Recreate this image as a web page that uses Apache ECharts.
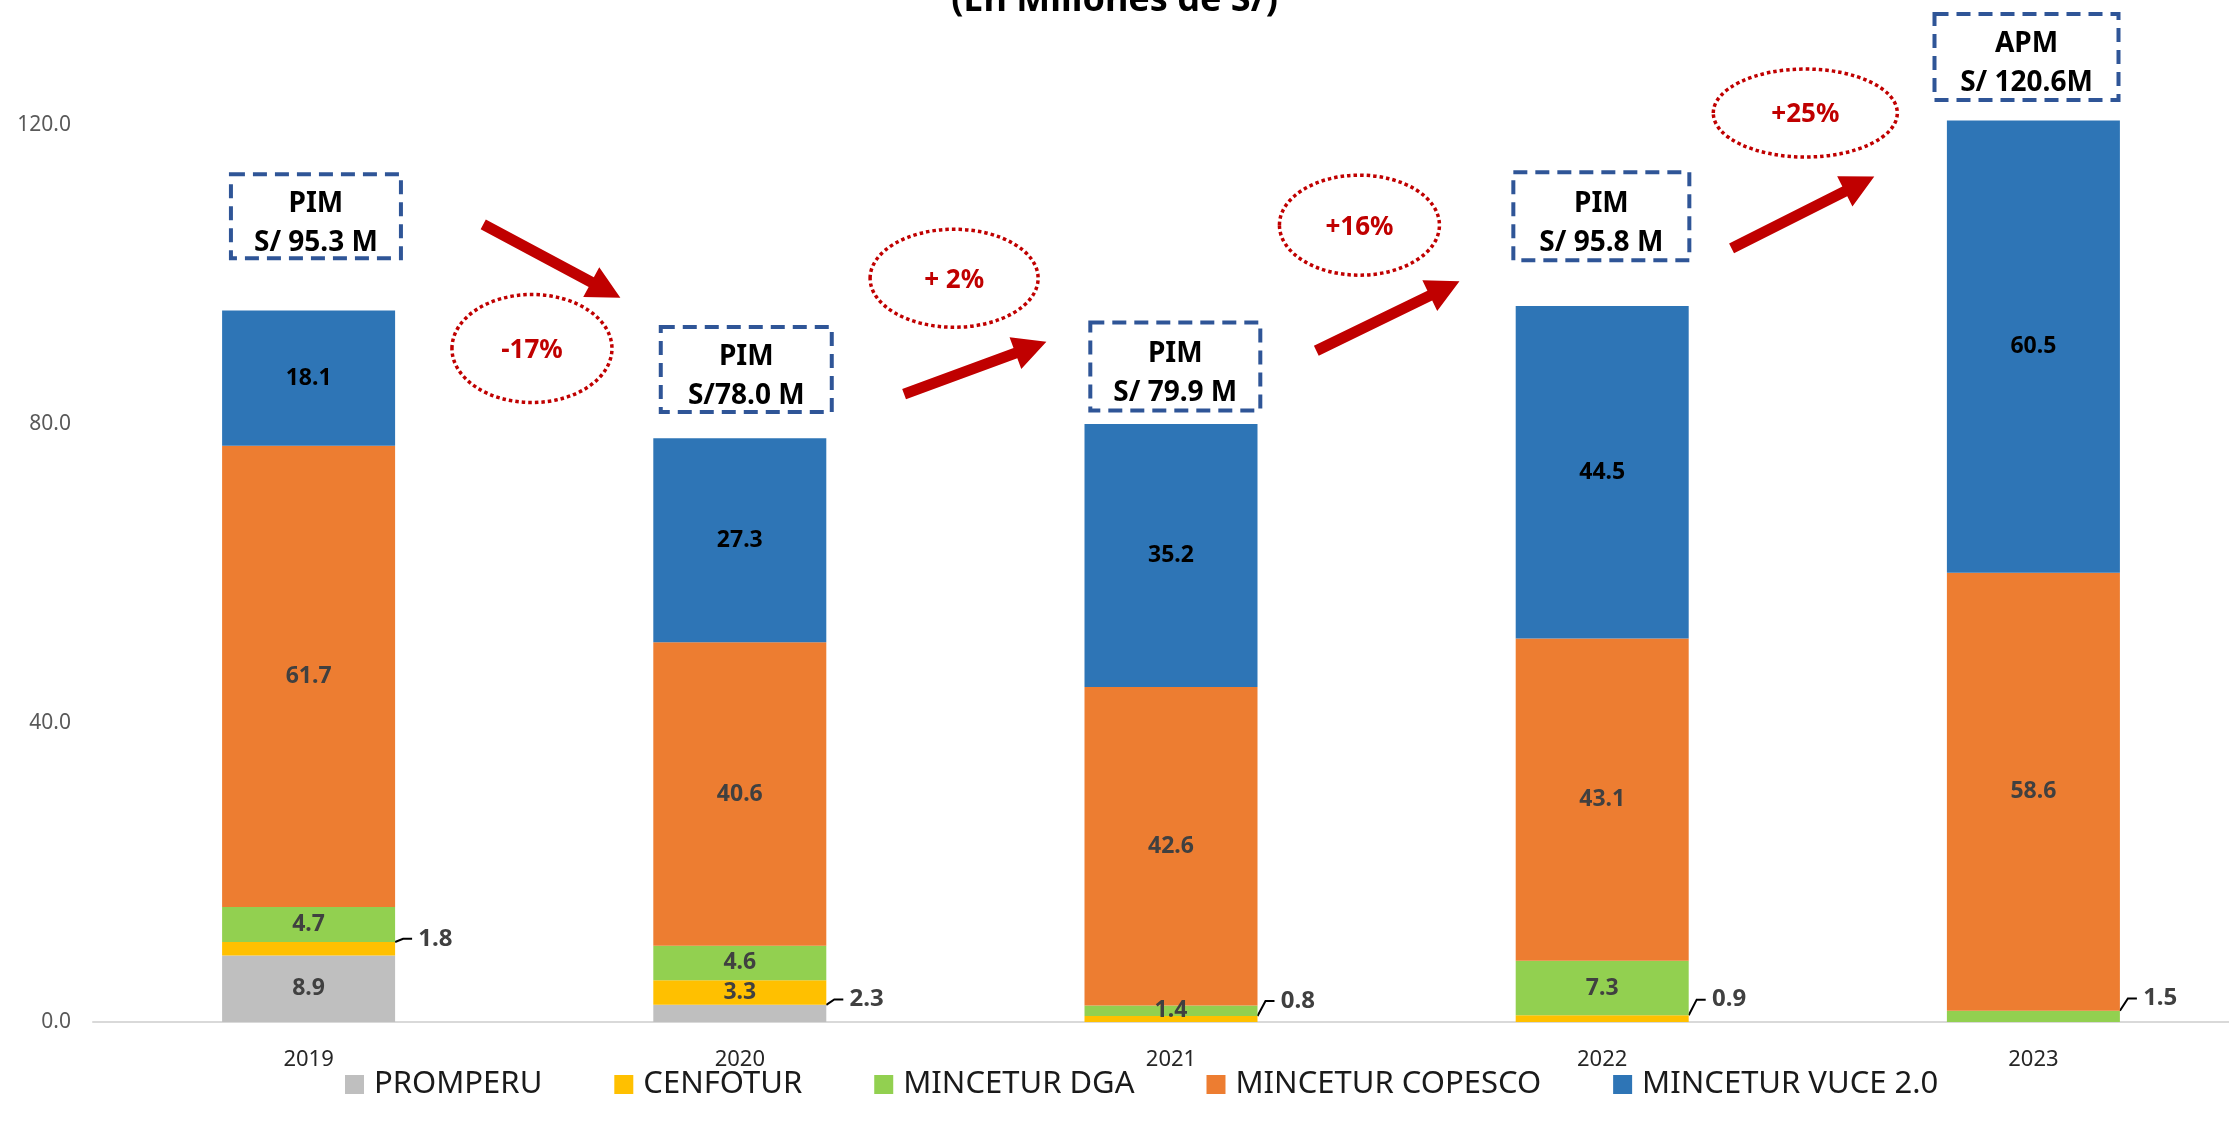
<!DOCTYPE html>
<html lang="es">
<head>
<meta charset="UTF-8">
<title>Presupuesto por año</title>
<script src="https://cdn.jsdelivr.net/npm/echarts@6/dist/echarts.min.js"></script>
<style>
  html, body { margin: 0; padding: 0; background: #fff; }
  #main { width: 2229px; height: 1138px; }
</style>
</head>
<body>
<div id="main"></div>
<script>
// datos (millones de S/)
var years = ['2019', '2020', '2021', '2022', '2023'];
var promperu = [8.9, 2.3, 0, 0, 0];
var cenfotur = [1.8, 3.3, 0.8, 0.9, 0];
var mincDga = [4.7, 4.6, 1.4, 7.3, 1.5];
var copesco = [61.7, 40.6, 42.6, 43.1, 58.6];
var vuce = [18.1, 27.3, 35.2, 44.5, 60.5];

var boxTitles = ['PIM', 'PIM', 'PIM', 'PIM', 'APM'];
var boxAmounts = ['S/ 95.3 M', 'S/78.0 M', 'S/ 79.9 M', 'S/ 95.8 M', 'S/ 120.6M'];
var changes = ['-17%', '+ 2%', '+16%', '+25%'];

var FONT = '"Noto Sans", "DejaVu Sans", sans-serif';

// etiquetas pequeñas que van fuera de la barra: "serie_indice" -> dy
var callouts = { '1_0': -10, '0_1': -14, '1_2': -18, '1_3': -19, '2_4': -18 };

// anotaciones: [posicion en categorias, valor en eje y, ...]
var boxPos = [[0.017, 107.8, 170, 84], [1.015, 87.3, 171, 85], [2.01, 87.7, 170, 88], [2.998, 107.8, 176, 88], [3.984, 129.1, 184, 86]];
var ellipsePos = [[0.518, 90.1, 80, 54], [1.497, 99.5, 84, 49], [2.437, 106.6, 80, 50], [3.471, 121.6, 92, 44]];
var arrowPos = [[0.405, 106.7, 0.723, 96.9], [1.381, 84.0, 1.711, 91.0], [2.337, 89.8, 2.669, 99.1], [3.300, 103.5, 3.631, 113.1]];

var myChart = echarts.init(document.getElementById('main'));

function isCallout(s, i) {
  return callouts[s + '_' + i] !== undefined;
}

function makeSeries(name, data, color, labelColor, sIdx) {
  return {
    name: name,
    type: 'bar',
    stack: 'total',
    barWidth: 173,
    clip: false,
    itemStyle: { color: color },
    label: {
      show: true,
      position: 'inside',
      color: labelColor,
      fontWeight: 'bold',
      fontSize: 23,
      fontFamily: FONT,
      formatter: function (p) {
        if (!p.value) return '';
        // deja un hueco entre la guía y el número
        return (isCallout(p.seriesIndex, p.dataIndex) ? ' ' : '') + p.value.toFixed(1);
      }
    },
    labelLayout: function (params) {
      var dy = callouts[params.seriesIndex + '_' + params.dataIndex];
      if (dy === undefined) return {};
      return { dx: 12, dy: dy };
    },
    data: data.map(function (v, i) {
      if (!isCallout(sIdx, i)) return v;
      return {
        value: v,
        label: { position: 'right', distance: 5, color: '#404040', fontSize: 24 },
        labelLine: { show: true, length2: 9, lineStyle: { color: '#000', width: 2 } }
      };
    })
  };
}

var option = {
  backgroundColor: '#fff',
  animation: false,
  title: {
    text: '(En Millones de S/)',
    left: 'center',
    top: -22,
    textStyle: { fontSize: 36, fontWeight: 'bold', color: '#000', fontFamily: FONT }
  },
  legend: {
    top: 1064,
    left: 340,
    icon: 'rect',
    itemWidth: 19,
    itemHeight: 19,
    itemGap: 72,
    textStyle: { fontSize: 31, color: '#1a1a1a', fontFamily: FONT, padding: [0, 0, 0, 5] },
    data: ['PROMPERU', 'CENFOTUR', 'MINCETUR DGA', 'MINCETUR COPESCO', 'MINCETUR VUCE 2.0']
  },
  grid: { left: 93, top: 125, bottom: 116, width: 2156, outerBoundsMode: 'none' },
  xAxis: {
    type: 'category',
    data: years,
    axisLine: { lineStyle: { color: '#d9d9d9', width: 2 } },
    axisTick: { show: false },
    axisLabel: { color: '#262626', fontSize: 22, margin: 27, fontFamily: FONT }
  },
  yAxis: {
    type: 'value',
    min: 0,
    max: 120,
    interval: 40,
    axisLine: { show: false },
    axisTick: { show: false },
    splitLine: { show: false },
    axisLabel: {
      color: '#595959', fontSize: 21, margin: 22, fontFamily: FONT,
      formatter: function (v) { return v.toFixed(1); }
    }
  },
  series: [
    makeSeries('PROMPERU', promperu, '#bfbfbf', '#404040', 0),
    makeSeries('CENFOTUR', cenfotur, '#ffc000', '#404040', 1),
    makeSeries('MINCETUR DGA', mincDga, '#92d050', '#404040', 2),
    makeSeries('MINCETUR COPESCO', copesco, '#ed7d31', '#404040', 3),
    makeSeries('MINCETUR VUCE 2.0', vuce, '#2e75b6', '#000', 4)
  ]
};

myChart.setOption(option);

// posiciones de las anotaciones a partir de los ejes
var x0 = myChart.convertToPixel({ xAxisIndex: 0 }, 0);
var step = myChart.convertToPixel({ xAxisIndex: 0 }, 1) - x0;
function pt(f, v) {
  return [x0 + f * step, myChart.convertToPixel({ yAxisIndex: 0 }, v)];
}

function arrowPoints(a, b) {
  var dx = b[0] - a[0], dy = b[1] - a[1];
  var len = Math.sqrt(dx * dx + dy * dy);
  var ux = dx / len, uy = dy / len, nx = -uy, ny = ux;
  var w = 5.5, hw = 17, hl = 33;
  var bx = b[0] - ux * hl, by = b[1] - uy * hl;
  return [
    [a[0] + nx * w, a[1] + ny * w],
    [bx + nx * w, by + ny * w],
    [bx + nx * hw, by + ny * hw],
    [b[0], b[1]],
    [bx - nx * hw, by - ny * hw],
    [bx - nx * w, by - ny * w],
    [a[0] - nx * w, a[1] - ny * w]
  ];
}

var graphics = [];
boxPos.forEach(function (b, i) {
  var c = pt(b[0], b[1]);
  graphics.push({
    type: 'rect',
    shape: { x: c[0] - b[2] / 2, y: c[1] - b[3] / 2, width: b[2], height: b[3] },
    style: { fill: 'rgba(0,0,0,0)', stroke: '#2f5597', lineWidth: 4, lineDash: [14, 8] },
    z: 10
  });
  graphics.push({
    type: 'text',
    x: c[0], y: c[1] + 7,
    style: {
      text: boxTitles[i] + '\n' + boxAmounts[i],
      align: 'center', verticalAlign: 'middle',
      fill: '#000', fontSize: 28, fontWeight: 'bold', fontFamily: FONT, lineHeight: 39
    },
    z: 11
  });
});
ellipsePos.forEach(function (e, i) {
  var c = pt(e[0], e[1]);
  graphics.push({
    type: 'ellipse',
    shape: { cx: c[0], cy: c[1], rx: e[2], ry: e[3] },
    style: { fill: 'rgba(0,0,0,0)', stroke: '#c00000', lineWidth: 3.5, lineDash: [3.5, 3] },
    z: 10
  });
  graphics.push({
    type: 'text',
    x: c[0], y: c[1] + 2,
    style: {
      text: changes[i], align: 'center', verticalAlign: 'middle',
      fill: '#c00000', fontSize: 26, fontWeight: 'bold', fontFamily: FONT
    },
    z: 11
  });
});
arrowPos.forEach(function (a) {
  graphics.push({
    type: 'polygon',
    shape: { points: arrowPoints(pt(a[0], a[1]), pt(a[2], a[3])) },
    style: { fill: '#c00000' },
    z: 10
  });
});

myChart.setOption({ graphic: graphics });
</script>
</body>
</html>
